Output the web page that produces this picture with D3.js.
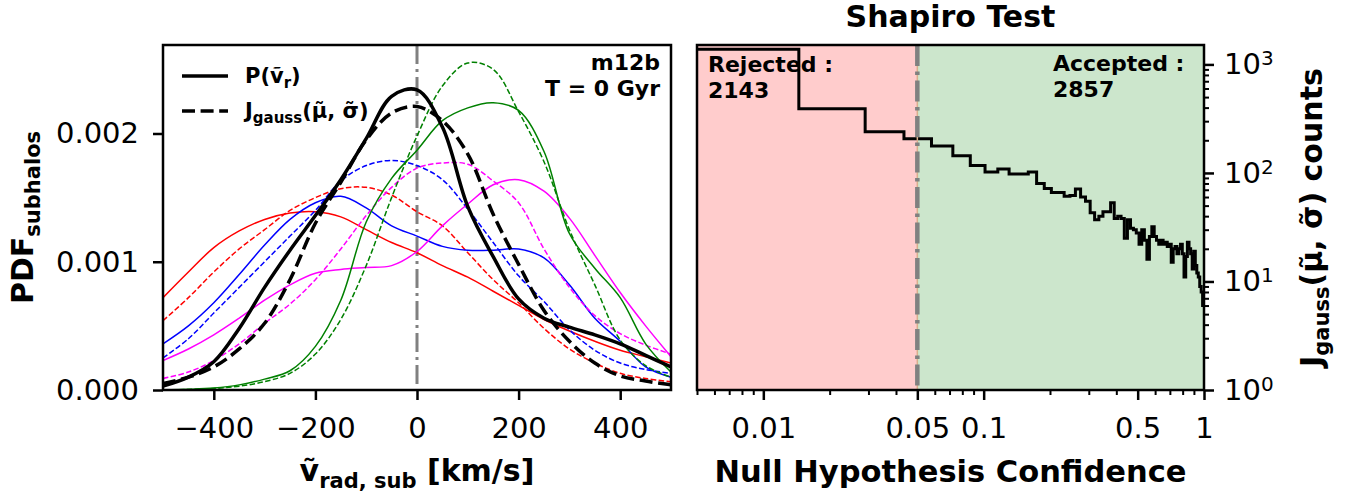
<!DOCTYPE html>
<html>
<head>
<meta charset="utf-8">
<script src="https://cdn.jsdelivr.net/npm/d3@7"></script>
<style>
  body { margin: 0; background: #fff; }
  svg { font-family: "DejaVu Sans", sans-serif; }
</style>
</head>
<body>
<div id="chart"></div>
<script>
// ---------- data ----------
// radial velocity grid [km/s]
const vGrid = [-500,-450,-400,-350,-300,-250,-200,-150,-100,-50,0,50,100,150,200,250,300,350,400,450,500];

// PDFs, in units of 1e-3
const blackSolid   = [0.03,0.10,0.22,0.48,0.80,1.09,1.36,1.64,1.96,2.29,2.34,2.05,1.43,1.04,0.71,0.56,0.49,0.43,0.36,0.27,0.18];
const blackDashed  = [0.05,0.10,0.18,0.32,0.52,0.86,1.30,1.62,1.95,2.16,2.21,2.10,1.84,1.37,0.98,0.62,0.38,0.21,0.11,0.07,0.04];
const redSolid     = [0.72,0.92,1.11,1.24,1.33,1.38,1.39,1.35,1.25,1.15,1.07,0.97,0.88,0.77,0.66,0.55,0.46,0.38,0.31,0.26,0.21];
const redDashed    = [0.54,0.72,0.92,1.10,1.25,1.40,1.50,1.57,1.58,1.52,1.39,1.28,1.07,0.86,0.68,0.48,0.32,0.21,0.13,0.09,0.065];
const blueSolid    = [0.36,0.50,0.68,0.90,1.13,1.33,1.46,1.51,1.42,1.28,1.20,1.12,1.09,1.09,1.10,1.03,0.82,0.56,0.38,0.18,0.10];
const blueDashed   = [0.25,0.40,0.60,0.80,1.00,1.20,1.40,1.63,1.75,1.79,1.75,1.64,1.41,1.15,0.89,0.69,0.47,0.31,0.21,0.16,0.13];
const magSolid     = [0.23,0.32,0.43,0.56,0.70,0.82,0.91,0.94,0.955,0.97,1.08,1.28,1.45,1.60,1.64,1.55,1.34,1.05,0.76,0.50,0.26];
const magDashed    = [0.09,0.14,0.23,0.36,0.52,0.67,0.86,1.10,1.36,1.58,1.73,1.77,1.76,1.63,1.46,1.10,0.80,0.58,0.44,0.35,0.28];
const greenSolid   = [0.00,0.005,0.015,0.04,0.085,0.15,0.34,0.70,1.31,1.65,1.87,2.10,2.20,2.24,2.18,1.86,1.22,0.95,0.72,0.36,0.14];
const greenDashed  = [0.00,0.004,0.012,0.03,0.065,0.13,0.28,0.55,0.97,1.50,1.98,2.37,2.55,2.50,2.17,1.78,1.25,0.82,0.39,0.19,0.10];

const vTicks = [-400,-200,0,200,400];
const pdfTicks = [0, 0.001, 0.002];

// Shapiro p-value histogram: 69 equal-width bins on [0,1]
const nBins = 69;
const histCounts = [1377,391,240,207,177,144,117,102,109,98,98,102,80,72,66,66,61,62,71,60,
  55,43,37,40,44,44,53,38,40,38,25,37,31,30,28,22,30,24,16,26,
  32,26,24,22,24,22,23,21,22,15,20,21,18,20,22,18,11,17,23,20,
  18,13,19,14,12,11,9,8,6];
const pTicks = [0.01,0.05,0.1,0.5,1];
const pTickLabels = ["0.01","0.05","0.1","0.5","1"];
const countTicks = [1,10,100,1000];
const pCut = 0.05;
const nRejected = 2143, nAccepted = 2857;

// ---------- layout ----------
const width = 1348, height = 493;
const L = {x0: 163, x1: 671, y0: 45, y1: 390};
const R = {x0: 697, x1: 1204, y0: 45, y1: 390};

const svg = d3.select("#chart").append("svg")
    .attr("width", width).attr("height", height);

const defs = svg.append("defs");
defs.append("clipPath").attr("id", "clipL").append("rect")
    .attr("x", L.x0).attr("y", L.y0).attr("width", L.x1 - L.x0).attr("height", L.y1 - L.y0);
defs.append("clipPath").attr("id", "clipR").append("rect")
    .attr("x", R.x0).attr("y", R.y0).attr("width", R.x1 - R.x0).attr("height", R.y1 - R.y0);

// ================= left panel =================
const xScale = d3.scaleLinear().domain([-500, 500]).range([L.x0, L.x1]);
const yScale = d3.scaleLinear().domain([0, 0.00269]).range([L.y1, L.y0]);

const curves = [
  {vals: redSolid,    color: "red",     w: 1.5, dash: null},
  {vals: redDashed,   color: "red",     w: 1.5, dash: "5.5,2.4"},
  {vals: blueSolid,   color: "blue",    w: 1.5, dash: null},
  {vals: blueDashed,  color: "blue",    w: 1.5, dash: "5.5,2.4"},
  {vals: magSolid,    color: "magenta", w: 1.5, dash: null},
  {vals: magDashed,   color: "magenta", w: 1.5, dash: "5.5,2.4"},
  {vals: greenSolid,  color: "green",   w: 1.5, dash: null},
  {vals: greenDashed, color: "green",   w: 1.5, dash: "5.5,2.4"},
  {vals: blackSolid,  color: "black",   w: 3.5, dash: null},
  {vals: blackDashed, color: "black",   w: 3.5, dash: "13,5.6"}
];

const line = d3.line()
    .x(d => xScale(d[0]))
    .y(d => yScale(d[1]))
    .curve(d3.curveCatmullRom.alpha(0.5));

const gL = svg.append("g").attr("clip-path", "url(#clipL)");

// vertical line at v = 0
gL.append("line")
    .attr("x1", xScale(0)).attr("x2", xScale(0))
    .attr("y1", L.y0).attr("y2", L.y1)
    .attr("stroke", "#808080").attr("stroke-width", 3)
    .attr("stroke-dasharray", "19,5,3,5");

gL.selectAll("path.curve")
    .data(curves)
    .enter()
    .append("path")
    .attr("class", "curve")
    .attr("fill", "none")
    .attr("stroke", d => d.color)
    .attr("stroke-width", d => d.w)
    .attr("stroke-dasharray", d => d.dash)
    .attr("d", d => line(vGrid.map((v, i) => [v, d.vals[i] / 1000])));

const xAxis = d3.axisBottom(xScale).tickValues(vTicks).tickSize(10).tickSizeOuter(0).tickPadding(17);
const yAxis = d3.axisLeft(yScale).tickValues(pdfTicks).tickSize(10).tickSizeOuter(0).tickPadding(14)
    .tickFormat(d3.format(".3f"));

function styleAxis(g, fs) {
  g.select(".domain").remove();
  g.selectAll(".tick line").attr("stroke", "#000").attr("stroke-width", 2.5);
  g.selectAll(".tick text").attr("font-size", fs + "px").attr("fill", "#000")
      .attr("font-family", "DejaVu Sans");
}

svg.append("g").attr("transform", `translate(0,${L.y1})`).call(xAxis).call(g => styleAxis(g, 29));
svg.append("g").attr("transform", `translate(${L.x0},0)`).call(yAxis).call(g => styleAxis(g, 29));

svg.append("rect")
    .attr("x", L.x0).attr("y", L.y0).attr("width", L.x1 - L.x0).attr("height", L.y1 - L.y0)
    .attr("fill", "none").attr("stroke", "#000").attr("stroke-width", 2.5);

// legend
const legend = svg.append("g").attr("font-weight", "bold").attr("font-size", "21px");
legend.append("line").attr("x1", 182).attr("x2", 228).attr("y1", 76).attr("y2", 76)
    .attr("stroke", "#000").attr("stroke-width", 3.5);
legend.append("line").attr("x1", 182).attr("x2", 228).attr("y1", 111).attr("y2", 111)
    .attr("stroke", "#000").attr("stroke-width", 3.5).attr("stroke-dasharray", "13,5.6");
const lt1 = legend.append("text").attr("x", 245).attr("y", 83);
lt1.append("tspan").text("P(\u1E7D");
lt1.append("tspan").attr("font-size", "15px").attr("dy", 5).text("r");
lt1.append("tspan").attr("dy", -5).text(")");
const lt2 = legend.append("text").attr("x", 245).attr("y", 118);
lt2.append("tspan").text("J");
lt2.append("tspan").attr("font-size", "15px").attr("dy", 5).text("gauss");
lt2.append("tspan").attr("dy", -5).text("(\u03BC\u0303, \u03C3\u0303)");

// run label (two lines)
svg.append("text").attr("x", 660).attr("y", 70).attr("text-anchor", "end")
    .attr("font-weight", "bold").attr("font-size", "22px").text("m12b");
svg.append("text").attr("x", 660).attr("y", 96).attr("text-anchor", "end")
    .attr("font-weight", "bold").attr("font-size", "22px").text("T = 0 Gyr");

// axis labels
const xl = svg.append("text").attr("x", (L.x0 + L.x1) / 2).attr("y", 481)
    .attr("text-anchor", "middle").attr("font-weight", "bold").attr("font-size", "30px");
xl.append("tspan").text("\u1E7D");
xl.append("tspan").attr("font-size", "21px").attr("dy", 7).text("rad, sub");
xl.append("tspan").attr("dy", -7).text(" [km/s]");

const yl = svg.append("text")
    .attr("transform", `translate(33,${(L.y0 + L.y1) / 2}) rotate(-90)`)
    .attr("text-anchor", "middle").attr("font-weight", "bold").attr("font-size", "30px");
yl.append("tspan").text("PDF");
yl.append("tspan").attr("font-size", "21px").attr("dy", 7).text("subhalos");

// ================= right panel =================
const xR = d3.scaleLog().domain([0.005, 1]).range([R.x0, R.x1]);
const yR = d3.scaleLog().domain([1, 1510]).range([R.y1, R.y0]);

const gR = svg.append("g").attr("clip-path", "url(#clipR)");
gR.append("rect").attr("x", xR(0.005)).attr("y", R.y0)
    .attr("width", xR(pCut) - xR(0.005)).attr("height", R.y1 - R.y0).attr("fill", "#ffcccc");
gR.append("rect").attr("x", xR(pCut)).attr("y", R.y0)
    .attr("width", xR(1) - xR(pCut)).attr("height", R.y1 - R.y0).attr("fill", "#cce6cc");

const binW = 1 / nBins;
const stepPts = histCounts.map((c, i) => [i * binW, c]);
stepPts.push([1, histCounts[histCounts.length - 1]]);

const histLine = d3.line()
    .x(d => xR(Math.max(d[0], 0.005)))
    .y(d => yR(d[1]))
    .curve(d3.curveStepAfter);

gR.append("path")
    .attr("d", histLine(stepPts))
    .attr("fill", "none").attr("stroke", "#000").attr("stroke-width", 3)
    .attr("stroke-linejoin", "miter");

gR.append("line").attr("x1", xR(pCut)).attr("x2", xR(pCut)).attr("y1", R.y0).attr("y2", R.y1)
    .attr("stroke", "#d9ae8c").attr("stroke-width", 1.5);
gR.append("line").attr("x1", xR(pCut)).attr("x2", xR(pCut)).attr("y1", R.y0).attr("y2", R.y1)
    .attr("stroke", "#808080").attr("stroke-width", 4.5)
    .attr("stroke-dasharray", "21,5.5,3.5,5.5");

// x axis (log) major + minor
const xMinor = xR.ticks().filter(t => !pTicks.some(p => Math.abs(p - t) < 1e-9));
svg.append("g").attr("transform", `translate(0,${R.y1})`)
    .call(d3.axisBottom(xR).tickValues(xMinor).tickSize(5).tickSizeOuter(0).tickFormat(""))
    .call(g => { g.select(".domain").remove(); g.selectAll(".tick line").attr("stroke-width", 2); });
svg.append("g").attr("transform", `translate(0,${R.y1})`)
    .call(d3.axisBottom(xR).tickValues(pTicks).tickSize(10).tickSizeOuter(0).tickPadding(17)
        .tickFormat((d, i) => pTickLabels[i]))
    .call(g => styleAxis(g, 29));

// y axis (log) on the right
const yMinor = yR.ticks().filter(t => !countTicks.includes(t));
svg.append("g").attr("transform", `translate(${R.x1},0)`)
    .call(d3.axisRight(yR).tickValues(yMinor).tickSize(5).tickSizeOuter(0).tickFormat(""))
    .call(g => { g.select(".domain").remove(); g.selectAll(".tick line").attr("stroke-width", 2); });
svg.append("g").attr("transform", `translate(${R.x1},0)`)
    .call(d3.axisRight(yR).tickValues(countTicks).tickSize(10).tickSizeOuter(0).tickPadding(10)
        .tickFormat(""))
    .call(g => styleAxis(g, 29))
    .call(g => g.selectAll(".tick text").each(function(d) {
        const t = d3.select(this);
        t.append("tspan").text("10");
        t.append("tspan").attr("font-size", "20px").attr("dy", "-0.45em")
            .text(Math.round(Math.log10(d)));
    }));

svg.append("rect")
    .attr("x", R.x0).attr("y", R.y0).attr("width", R.x1 - R.x0).attr("height", R.y1 - R.y0)
    .attr("fill", "none").attr("stroke", "#000").attr("stroke-width", 2.5);

// annotations
const ann = svg.append("g").attr("font-weight", "bold").attr("font-size", "22px");
ann.append("text").attr("x", 708).attr("y", 72).text("Rejected :");
ann.append("text").attr("x", 708).attr("y", 98).text(nRejected);
ann.append("text").attr("x", 1053).attr("y", 71).text("Accepted :");
ann.append("text").attr("x", 1053).attr("y", 97).text(nAccepted);

// title and labels
svg.append("text").attr("x", (R.x0 + R.x1) / 2).attr("y", 27).attr("text-anchor", "middle")
    .attr("font-weight", "bold").attr("font-size", "30px").text("Shapiro Test");

svg.append("text").attr("x", (R.x0 + R.x1) / 2).attr("y", 482).attr("text-anchor", "middle")
    .attr("font-weight", "bold").attr("font-size", "30.5px").text("Null Hypothesis Confidence");

const yr = svg.append("text")
    .attr("transform", `translate(1322,${(R.y0 + R.y1) / 2}) rotate(-90)`)
    .attr("text-anchor", "middle").attr("font-weight", "bold").attr("font-size", "30px");
yr.append("tspan").text("J");
yr.append("tspan").attr("font-size", "21px").attr("dy", 7).text("gauss");
yr.append("tspan").attr("dy", -7).text("(\u03BC\u0303, \u03C3\u0303) counts");
</script>
</body>
</html>
